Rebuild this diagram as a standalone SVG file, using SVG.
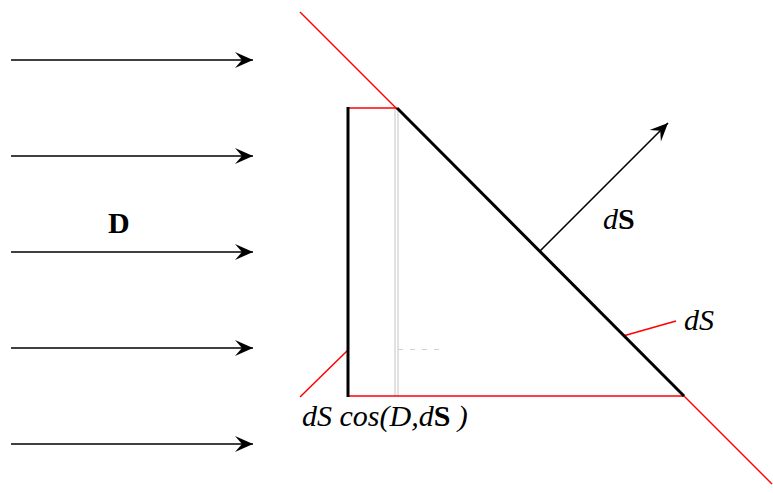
<svg xmlns="http://www.w3.org/2000/svg" width="773" height="493" viewBox="0 0 773 493">
<style>
.arr{stroke:#000;stroke-width:1.6;fill:none;marker-end:url(#ah)}
.red{stroke:#ff0000;stroke-width:1.5;fill:none}
.thick{stroke:#000;stroke-width:3;fill:none}
.gray{stroke:#c4c4c4;stroke-width:1;fill:none}
.t{font-family:"Liberation Serif","Times New Roman",serif;font-size:30px;fill:#000}
.i{font-style:italic}
.b{font-weight:bold}
</style>
<defs>
<marker id="ah" markerUnits="userSpaceOnUse" markerWidth="20" markerHeight="18" viewBox="0 0 20 18" refX="19" refY="9" orient="auto">
<path d="M1,1 L19,9 L1,17 L8,9 Z" fill="#000"/>
</marker>
</defs>
<g id="connectors">
<line class="arr" x1="11" y1="60" x2="253" y2="60"/>
<line class="arr" x1="11" y1="156" x2="253" y2="156"/>
<line class="arr" x1="11" y1="252" x2="253" y2="252"/>
<line class="arr" x1="11" y1="348" x2="253" y2="348"/>
<line class="arr" x1="11" y1="444" x2="253" y2="444"/>
<line class="arr" x1="540" y1="251" x2="668" y2="123"/>
</g>
<g id="prism">
<line class="gray" x1="395" y1="108" x2="395" y2="396"/>
<line class="gray" x1="398" y1="108" x2="398" y2="396"/>
<line x1="398" y1="349.5" x2="442" y2="349.5" stroke="#d0d0d0" stroke-width="1" stroke-dasharray="5,7"/>
<line class="red" x1="300" y1="12" x2="397" y2="109"/>
<line class="red" x1="683" y1="395" x2="772" y2="484"/>
<line class="red" x1="348" y1="108" x2="397" y2="108"/>
<line class="red" x1="348" y1="396" x2="684" y2="396"/>
<line class="red" x1="348" y1="350" x2="300" y2="397"/>
<line class="red" x1="623" y1="336" x2="676" y2="321"/>
<line class="thick" x1="348" y1="107" x2="348" y2="397"/>
<line class="thick" x1="397" y1="108" x2="684" y2="396"/>
</g>
<g id="labels">
<text class="t b" x="108" y="233" font-size="31">D</text>
<text class="t" x="603" y="229"><tspan class="i">d</tspan><tspan class="b">S</tspan></text>
<text class="t i" x="684" y="330">dS</text>
<text class="t" x="302" y="426"><tspan class="i">dS cos(D,d</tspan><tspan class="b">S</tspan><tspan class="i"> )</tspan></text>
</g>
</svg>
